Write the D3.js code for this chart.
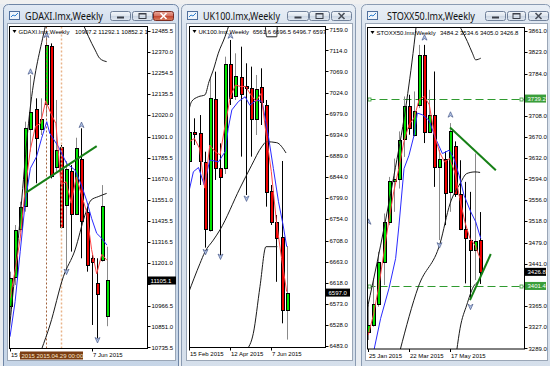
<!DOCTYPE html>
<meta charset="utf-8">
<style>
    body { margin: 0; background: #e8ecf1; }
    svg { display: block; }
    text { font-family: "Liberation Sans", Arial, sans-serif; }
</style>
<body>
<svg id="screen" width="550" height="366"></svg>
<script src="https://d3js.org/d3.v7.min.js"></script>
<script>
// ---------- GDAXI weekly ----------
const daxOpen  = [10960, 11126, 11390, 11513, 11943, 12052, 11943, 12080, 12404, 11735, 11845, 11523, 11713, 11477, 11775, 11486, 11228, 11089, 11218, 10907.2];
const daxHigh  = [11154, 11412, 11541, 11984, 12242, 12113, 12113, 12454, 12417, 12104, 11855, 11766, 11744, 11895, 11947, 11513, 11246, 11228, 11633, 11292.1];
const daxLow   = [10914, 11080, 11375, 11486, 11818, 11643, 11910, 12021, 11670, 11707, 11394, 11163, 11265, 11467, 11228, 11154, 10859, 10785, 11209, 10852.2];
const daxClose = [11117, 11384, 11513, 11947, 12035, 11892, 11997, 12408, 11685, 11827, 11403, 11722, 11473, 11840, 11430, 11191, 11206, 11028, 11517, 11105.1];
const daxFast  = [11006, 11160, 11338, 11615, 11832, 11958, 11975, 12099, 12030, 11973, 11638, 11651, 11533, 11678, 11581, 11487, 11276, 11142, 11250, 11217];
const daxSlow  = [[0, 10794], [1, 10988], [2, 11264], [3, 11541], [4, 11726], [5.2, 11790], [6.2, 11892], [7.2, 11984], [7.8, 11919], [9.5, 11845], [11.1, 11753], [12.75, 11716], [14, 11633], [15, 11550], [16, 11449], [17, 11366], [18, 11338], [19, 11301]];
const daxCurves = [
    [[-0.2, 10814], [1.63, 11338], [3.92, 12049], [6.54, 12463], [7.0, 12520]],
    [[14.4, 12520], [15.4, 12454], [16.7, 12380], [17.6, 12334], [18.95, 12316]],
    [[6.2, 10725], [7.84, 10859], [10.46, 11126], [12.75, 11274], [14.7, 11467], [15.9, 11550], [17.3, 11569], [18.95, 11587]]
];
const daxUps   = [[4, 12260], [7, 12463], [14, 11965]];
const daxDowns = [[11, 11154], [17, 10776]];
const daxTrend = [[3.14, 11591], [17, 11849]];
const daxTicks = [12485.5, 12370.0, 12254.5, 12135.5, 12020.0, 11901.0, 11785.5, 11670.0, 11551.0, 11435.5, 11316.5, 11201.0, 11085.5, 10966.5, 10851.0, 10735.5];
const daxDates = [[0, '15 F'], [16, '7 Jun 2015']];

// ---------- UK100 weekly ----------
const ukOpen  = [6876.5, 6940.5, 6937, 6876.5, 6730.6, 7010.3, 6863.7, 6862.3, 7084.2, 7016.7, 7057.9, 7038, 7033, 6966.9, 7035.1, 6997.4, 6813.9, 6748.4, 6715, 6561.6];
const ukHigh  = [6960.4, 6969, 6976, 6897.8, 7054.4, 7068.6, 6915.6, 7100.6, 7136.2, 7107.7, 7121.9, 7086.4, 7079.3, 7061.5, 7075.7, 7008.1, 6826.7, 6762.6, 6877.9, 6696.5];
const ukLow   = [6869.4, 6912, 6826.7, 6693, 6727.1, 6837.4, 6677.3, 6850.2, 6997.4, 7008.1, 6887.2, 6805.3, 6887.2, 6933.4, 6954.7, 6780.4, 6741.3, 6620, 6531.4, 6496.7];
const ukClose = [6939.1, 6937, 6876.5, 6732.8, 7011.7, 6862.3, 6844.5, 7084.2, 7011.7, 7059.3, 7022.3, 7033, 6967.6, 7030.9, 7003.1, 6812.5, 6748.4, 6715, 6559.9, 6597.0];
const ukFast  = [6919, 6926, 6905, 6820, 6912, 6898, 6891, 6955, 7015, 7040, 7037, 7037, 7019, 7005, 7022, 6933, 6855, 6748, 6670, 6599];
const ukSlow  = [[0, 6816], [0.8, 6855], [1.8, 6864], [2.9, 6827], [4, 6880], [5.7, 6876], [7, 6898], [7.6, 6948], [8.3, 6987], [9.6, 7005], [10.9, 7015], [11.8, 6997], [13.1, 7008], [14.2, 7005], [15.4, 6933], [16.4, 6862], [17.4, 6791], [18.3, 6741], [19, 6695]];
const ukCurves = [
    [[-0.2, 6980], [0.46, 7005], [1.76, 7015], [3.06, 7019], [3.84, 7047], [4.68, 7072], [5.66, 7108], [6.96, 7143], [7.94, 7175]],
    [[14.77, 7175], [15.1, 7143], [17.05, 7143], [17.18, 7175]],
    [[-0.2, 6595], [2.08, 6659], [3.06, 6684], [4.68, 6709], [5.99, 6731], [9.89, 6820], [12.17, 6869], [14.12, 6908], [15.09, 6919], [17.05, 6917], [18.87, 6895]],
    [[11.19, 6475], [12.49, 6510], [13.79, 6610], [14.96, 6695], [17.18, 6695]]
];
const ukUps   = [[8, 7145]];
const ukDowns = [[3, 6684], [6, 6674], [11, 6798]];
const ukTicks = [7159, 7114, 7069, 7024, 6979, 6934, 6889, 6844, 6799, 6754, 6708, 6663, 6618, 6573, 6528, 6483];
const ukDates = [[0, '15 Feb 2015'], [8, '12 Apr 2015'], [16, '7 Jun 2015']];

// ---------- STOXX50 weekly ----------
const stxOpen  = [3319, 3331, 3368, 3444, 3517, 3591, 3594, 3665, 3725, 3674, 3728, 3818, 3680, 3710, 3616, 3631, 3570, 3653, 3567, 3504, 3484, 3466, 3484.2];
const stxHigh  = [3367, 3415, 3463, 3532, 3598, 3631, 3680, 3743, 3746, 3752, 3836, 3836, 3755, 3788, 3647, 3644, 3695, 3662, 3628, 3589, 3571, 3640, 3534.6];
const stxLow   = [3304, 3328, 3364, 3403, 3511, 3535, 3577, 3634, 3674, 3671, 3722, 3659, 3677, 3580, 3484, 3511, 3535, 3562, 3502, 3406, 3378, 3412, 3405.0];
const stxClose = [3331, 3368, 3444, 3517, 3591, 3594, 3665, 3725, 3686, 3717, 3818, 3680, 3710, 3616, 3631, 3570, 3680, 3567, 3504, 3487, 3466, 3482, 3426.8];
const stxFast  = [3313, 3349, 3397, 3457, 3517, 3571, 3613, 3661, 3692, 3704, 3737, 3743, 3728, 3674, 3643, 3625, 3631, 3607, 3559, 3517, 3487, 3475, 3451];
const stxSlow  = [[1.12, 3286], [2.43, 3343], [4.07, 3397], [5.38, 3451], [6.04, 3511], [7.03, 3613], [8.01, 3637], [9.0, 3673], [9.65, 3713], [10.64, 3710], [11.95, 3700], [13.26, 3667], [14.58, 3640], [15.89, 3646], [16.87, 3631], [17.86, 3601], [18.84, 3565], [20.16, 3535], [21.14, 3517], [22.13, 3487]];
const stxCurves = [
    [[-0.33, 3355], [2.43, 3475], [5.06, 3601], [7.35, 3722], [9.0, 3836], [9.45, 3872]],
    [[18.19, 3866], [19.5, 3842], [20.49, 3821], [21.14, 3809], [22.13, 3812]],
    [[6.24, 3285], [9.85, 3400], [14.12, 3478], [16.09, 3550], [18.06, 3586], [19.37, 3604], [21.01, 3607], [22.0, 3606]],
    [[17.4, 3285], [18.06, 3325], [19.37, 3367], [20.68, 3400], [21.67, 3409]]
];
const stxUps   = [[0, 3517], [11, 3849], [16, 3710]];
const stxDowns = [[14, 3475], [20, 3364]];
const stxTrends = [[[16.08, 3687], [25.1, 3610]], [[20.0, 3376], [24.1, 3459]]];
const stxLevels = [3739.2, 3401.4];
const stxTicks = [3861, 3823, 3784, 3746, 3708, 3670, 3632, 3594, 3556, 3518, 3479, 3441, 3403, 3365, 3327, 3289];
const stxDates = [[0, '25 Jan 2015'], [8, '22 Mar 2015'], [16, '17 May 2015']];

const charts = [
    {id: 1, name: 'GDAXI.lmx,Weekly', quote: '10907.2 11292.1 10852.2 1',
     open: daxOpen, high: daxHigh, low: daxLow, close: daxClose, fast: daxFast, slow: daxSlow,
     curves: daxCurves, ups: daxUps, downs: daxDowns, trends: [daxTrend], levels: [], ticks: daxTicks, dates: daxDates,
     vlines: [7, 10], stamp: '2015 2015.04.29 00:00',
     win: {x: 3, w: 176, active: true, titleX: 25, titleW: 78, btn: [[110, 20], [132, 20], [153, 20]]},
     client: {l: 7, r: 175, b: 360},
     plot: {l: 9.5, t: 26.5, r: 147.5, b: 348.5},
     yRange: [347.3, 31], xRange: [10, 106.9], quoteX: 75, lastW: 28},
    {id: 2, name: 'UK100.lmx,Weekly', quote: '6561.6 6696.5 6496.7 6597',
     open: ukOpen, high: ukHigh, low: ukLow, close: ukClose, fast: ukFast, slow: ukSlow,
     curves: ukCurves, ups: ukUps, downs: ukDowns, trends: [], levels: [], ticks: ukTicks, dates: ukDates,
     vlines: [],
     win: {x: 181, w: 175, active: false, titleX: 203, titleW: 77, btn: [[287, 21], [309, 20], [331, 20]]},
     client: {l: 186, r: 352, b: 360},
     plot: {l: 189.5, t: 26.5, r: 325.5, b: 347.5},
     yRange: [346, 29.3], xRange: [189.3, 286.7], quoteX: 252.7, lastW: 24},
    {id: 3, name: 'STOXX50.lmx,Weekly', quote: '3484.2 3534.6 3405.0 3426.8',
     open: stxOpen, high: stxHigh, low: stxLow, close: stxClose, fast: stxFast, slow: stxSlow,
     curves: stxCurves, ups: stxUps, downs: stxDowns, trends: stxTrends, levels: stxLevels, ticks: stxTicks, dates: stxDates,
     vlines: [],
     win: {x: 361, w: 190, active: false, titleX: 387, titleW: 88, btn: [[485, 20], [507, 18], [528, 20]]},
     client: {l: 365, r: 547, b: 360},
     plot: {l: 367.5, t: 27.5, r: 524.5, b: 349},
     yRange: [348.3, 31], xRange: [368.3, 480.1], quoteX: 440, lastW: 21}
];

const svg = d3.select('#screen');
const defs = svg.append('defs');
function grad(id, stops) {
    const lg = defs.append('linearGradient').attr('id', id)
        .attr('x1', 0).attr('y1', 0).attr('x2', 0).attr('y2', 1);
    stops.forEach(s => lg.append('stop').attr('offset', s[0]).attr('stop-color', s[1]));
}
grad('frameOn', [[0, '#e2eaf4'], [0.06, '#cfdcec'], [1, '#c6d5e7']]);
grad('frameOff', [[0, '#e9eff6'], [0.06, '#dbe4ef'], [1, '#d5dfeb']]);
grad('btn', [[0, '#f4f7fa'], [0.5, '#dde5ee'], [0.51, '#cbd6e3'], [1, '#e2e9f2']]);
grad('btnRed', [[0, '#eaa99a'], [0.5, '#d4705f'], [0.51, '#c44530'], [1, '#d9805f']]);

svg.append('rect').attr('width', 550).attr('height', 366).attr('fill', '#e8ecf1');
svg.append('rect').attr('width', 550).attr('height', 4).attr('fill', '#f0f0f0');

function drawButton(g, bx, bw, kind, active) {
    const red = kind === 'close' && active;
    const by = 11, bh = 9;
    g.append('rect').attr('x', bx + 0.5).attr('y', by + 0.5).attr('width', bw).attr('height', bh).attr('rx', 2)
        .attr('fill', red ? 'url(#btnRed)' : 'url(#btn)')
        .attr('stroke', red ? '#7b2c22' : '#70819a');
    const cx = bx + bw / 2 + 0.5, cy = by + bh / 2 + 0.5;
    if (kind === 'min') {
        g.append('rect').attr('x', cx - 3.5).attr('y', cy + 0.5).attr('width', 7).attr('height', 2)
            .attr('fill', '#3a3f48');
    } else if (kind === 'max') {
        g.append('rect').attr('x', cx - 3.5).attr('y', cy - 2.5).attr('width', 7).attr('height', 5)
            .attr('fill', 'none').attr('stroke', '#3a3f48').attr('stroke-width', 1);
        g.append('line').attr('x1', cx - 3.5).attr('x2', cx + 3.5).attr('y1', cy - 2).attr('y2', cy - 2)
            .attr('stroke', '#3a3f48').attr('stroke-width', 1);
    } else {
        const col = red ? '#ffffff' : '#4a505a';
        g.append('path').attr('d', `M${cx - 3},${cy - 3}L${cx + 3},${cy + 3}M${cx + 3},${cy - 3}L${cx - 3},${cy + 3}`)
            .attr('stroke', col).attr('stroke-width', 1.6);
    }
}

function drawWindow(c) {
    const w = c.win, g = svg.append('g');
    g.append('rect').attr('x', w.x + 0.5).attr('y', 4.5).attr('width', w.w - 1).attr('height', 380).attr('rx', 5)
        .attr('fill', w.active ? 'url(#frameOn)' : 'url(#frameOff)')
        .attr('stroke', w.active ? '#6f86a6' : '#8a9bb2');
    // small chart icon
    const ix = w.x + 6, iy = 11;
    g.append('rect').attr('x', ix + 0.5).attr('y', iy + 0.5).attr('width', 10).attr('height', 8)
        .attr('fill', '#eef4fb').attr('stroke', '#4f6f9d');
    g.append('path').attr('d', `M${ix + 2},${iy + 6}L${ix + 4},${iy + 4}L${ix + 6},${iy + 5}L${ix + 9},${iy + 2}`)
        .attr('fill', 'none').attr('stroke', '#2e7fd0').attr('stroke-width', 1);
    g.append('text').attr('x', w.titleX).attr('y', 20).attr('font-size', 11.5)
        .attr('textLength', w.titleW).attr('lengthAdjust', 'spacingAndGlyphs')
        .style('font-family', '"Noto Sans", "Open Sans", sans-serif')
        .attr('fill', '#111').text(c.name);
    drawButton(g, w.btn[0][0], w.btn[0][1], 'min', w.active);
    drawButton(g, w.btn[1][0], w.btn[1][1], 'max', w.active);
    drawButton(g, w.btn[2][0], w.btn[2][1], 'close', w.active);
    // client area
    g.append('rect').attr('x', c.client.l + 0.5).attr('y', 23.5)
        .attr('width', c.client.r - c.client.l).attr('height', c.client.b - 23)
        .attr('fill', '#ffffff').attr('stroke', '#9aa6b6');
}

function arrow(g, cx, cy, up) {
    const s = up ? 1 : -1;
    g.append('path')
        .attr('d', `M${cx},${cy - 3 * s}L${cx + 2.5},${cy + 2.5 * s}L${cx},${cy + 1 * s}L${cx - 2.5},${cy + 2.5 * s}Z`)
        .attr('fill', '#b3c4e6').attr('stroke', '#34477a').attr('stroke-width', 0.6);
}

function drawChart(c) {
    const p = c.plot, g = svg.append('g');
    const n = c.open.length;
    const y = d3.scaleLinear().domain([d3.min(c.ticks), d3.max(c.ticks)]).range(c.yRange);
    const x = d3.scaleLinear().domain([0, n - 1]).range(c.xRange);
    const px = i => Math.round(x(i)) + 0.5;
    const py = v => Math.round(y(v)) + 0.5;
    const last = c.close[n - 1];
    const tags = c.levels.concat([last]);

    defs.append('clipPath').attr('id', 'clip' + c.id)
        .append('rect').attr('x', p.l).attr('y', p.t).attr('width', p.r - p.l).attr('height', p.b - p.t);
    const inner = g.append('g').attr('clip-path', `url(#clip${c.id})`);

    // horizontal level lines (under the bars)
    c.levels.forEach(v => {
        inner.append('line').attr('x1', p.l).attr('x2', p.r).attr('y1', py(v)).attr('y2', py(v))
            .attr('stroke', '#2f9a2f').attr('stroke-dasharray', '8,4');
        [p.l + 2, p.r - 3].forEach(sx => inner.append('rect').attr('x', sx - 1.5).attr('y', py(v) - 1.5)
            .attr('width', 3).attr('height', 3).attr('fill', '#fff').attr('stroke', '#2f9a2f').attr('stroke-width', 0.8));
    });

    // candles
    const bars = c.open.map((o, i) => ({i, o, h: c.high[i], l: c.low[i], cl: c.close[i]}));
    inner.selectAll('line.wick').data(bars).join('line').attr('class', 'wick')
        .attr('x1', d => px(d.i)).attr('x2', d => px(d.i))
        .attr('y1', d => y(d.h)).attr('y2', d => y(d.l))
        .attr('stroke', d => d.cl >= d.o ? '#8a8a8a' : '#000');
    inner.selectAll('rect.body').data(bars).join('rect').attr('class', 'body')
        .attr('x', d => px(d.i) - 1.5).attr('width', 3)
        .attr('y', d => Math.round(y(Math.max(d.o, d.cl))))
        .attr('height', d => Math.max(1, Math.round(Math.abs(y(d.o) - y(d.cl)))))
        .attr('fill', d => d.cl >= d.o ? '#00e400' : '#f00000')
        .attr('stroke', '#000').attr('shape-rendering', 'crispEdges');

    // vertical separators
    c.vlines.forEach((vi, k) => {
        inner.append('line').attr('x1', px(vi)).attr('x2', px(vi)).attr('y1', p.t).attr('y2', p.b)
            .attr('stroke', k === 0 ? '#a0603a' : '#e9b48a').attr('stroke-width', k === 0 ? 1 : 1.5)
            .attr('stroke-dasharray', '2,2');
    });

    // indicator lines
    const line = d3.line().x(d => x(d[0])).y(d => y(d[1]));
    const smooth = d3.line().x(d => x(d[0])).y(d => y(d[1])).curve(d3.curveMonotoneX);
    c.curves.forEach(cv => inner.append('path').attr('d', smooth(cv))
        .attr('fill', 'none').attr('stroke', '#1a1a1a').attr('stroke-width', 1));
    inner.append('path').attr('d', line(c.slow)).attr('fill', 'none').attr('stroke', '#2a2aff').attr('stroke-width', 1);
    inner.append('path').attr('d', line(c.fast.map((v, i) => [i, v])))
        .attr('fill', 'none').attr('stroke', '#ff4545').attr('stroke-width', 1);

    // trend lines and fractals
    c.trends.forEach(t => inner.append('path').attr('d', line(t))
        .attr('fill', 'none').attr('stroke', '#168016').attr('stroke-width', 2));
    c.ups.forEach(d => arrow(inner, px(d[0]), y(d[1]), true));
    c.downs.forEach(d => arrow(inner, px(d[0]), y(d[1]), false));

    // header
    inner.append('path').attr('d', `M${p.l + 3},${p.t + 3.5}L${p.l + 7},${p.t + 3.5}L${p.l + 5},${p.t + 6.5}Z`).attr('fill', '#000');
    inner.append('text').attr('x', p.l + 9).attr('y', p.t + 7).attr('font-size', 6).attr('fill', '#000').text(c.name);
    inner.append('text').attr('x', c.quoteX).attr('y', p.t + 7).attr('font-size', 6).attr('fill', '#000').text(c.quote);

    // plot frame
    g.append('rect').attr('x', p.l).attr('y', p.t).attr('width', p.r - p.l).attr('height', p.b - p.t)
        .attr('fill', 'none').attr('stroke', '#000');

    // price axis (labels hidden behind a price tag are left out)
    c.ticks.forEach(v => {
        g.append('line').attr('x1', p.r).attr('x2', p.r + 3).attr('y1', py(v)).attr('y2', py(v)).attr('stroke', '#000');
        if (tags.some(t => Math.abs(y(t) - y(v)) < 6.5)) return;
        g.append('text').attr('x', p.r + 4).attr('y', y(v) + 2.2).attr('font-size', 6).attr('fill', '#000').text(v.toFixed(1));
    });

    // date axis
    c.dates.forEach(d => {
        g.append('line').attr('x1', px(d[0])).attr('x2', px(d[0])).attr('y1', p.b).attr('y2', p.b + 3).attr('stroke', '#000');
        g.append('text').attr('x', px(d[0]) + 0.5).attr('y', p.b + 8.5).attr('font-size', 6).attr('fill', '#000').text(d[1]);
    });
    if (c.stamp) {
        g.append('rect').attr('x', 20).attr('y', p.b + 3).attr('width', 63).attr('height', 8).attr('fill', '#7b3d12');
        g.append('text').attr('x', 21.5).attr('y', p.b + 9).attr('font-size', 6).attr('fill', '#f6e6cc').text(c.stamp);
    }

    // level tags and last price tag
    c.levels.forEach(v => {
        g.append('rect').attr('x', p.r + 0.5).attr('y', y(v) - 4).attr('width', 21).attr('height', 8).attr('fill', '#3a9e3a');
        g.append('text').attr('x', p.r + 3).attr('y', y(v) + 2.2).attr('font-size', 6).attr('fill', '#fff').text(v.toFixed(1));
    });
    g.append('rect').attr('x', p.r + 0.5).attr('y', y(last) - 4).attr('width', c.lastW).attr('height', 8).attr('fill', '#000');
    g.append('text').attr('x', p.r + 3).attr('y', y(last) + 2.2).attr('font-size', 6).attr('fill', '#fff').text(last.toFixed(1));
}

charts.forEach(c => { drawWindow(c); drawChart(c); });
</script>
</body>
